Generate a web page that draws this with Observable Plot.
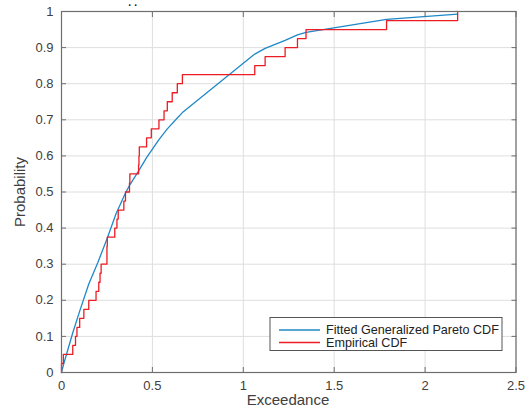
<!DOCTYPE html>
<html><head><meta charset="utf-8">
<script src="https://cdn.jsdelivr.net/npm/d3@7"></script>
<script src="https://cdn.jsdelivr.net/npm/@observablehq/plot@0.6"></script>
<style>
body{margin:0;background:#fff}
#chart{position:relative;width:531px;height:417px}
</style>
</head><body><div id="chart"></div>
<script>
// Empirical CDF jump locations (exceedance) and levels
const empiricalX = [0, 0, 0.01, 0.062, 0.077, 0.085, 0.1, 0.123, 0.15, 0.19, 0.205, 0.212, 0.218,
  0.25, 0.25, 0.252, 0.293, 0.305, 0.312, 0.343, 0.352, 0.374, 0.376, 0.424, 0.426, 0.428,
  0.468, 0.494, 0.536, 0.564, 0.582, 0.609, 0.637, 0.665, 1.063, 1.12, 1.23, 1.298, 1.345, 1.788, 2.179];
const empiricalP = [0, 0.025, 0.05, 0.075, 0.1, 0.125, 0.15, 0.175, 0.2, 0.225, 0.25, 0.275, 0.3,
  0.325, 0.35, 0.375, 0.4, 0.425, 0.45, 0.475, 0.5, 0.525, 0.55, 0.575, 0.6, 0.625,
  0.65, 0.675, 0.7, 0.725, 0.75, 0.775, 0.8, 0.825, 0.85, 0.875, 0.9, 0.925, 0.95, 0.975, 1];
// Fitted generalized Pareto CDF, read at the sample points
const fittedX = [0, 0.01, 0.062, 0.1, 0.15, 0.2, 0.25, 0.3, 0.35, 0.376, 0.426, 0.468, 0.536, 0.582, 0.637, 0.665,
  1.063, 1.12, 1.23, 1.298, 1.345, 1.788, 2.179];
const fittedP = [0, 0.02, 0.11, 0.17, 0.245, 0.305, 0.37, 0.44, 0.495, 0.52, 0.56, 0.595, 0.645, 0.675, 0.705, 0.72,
  0.882, 0.898, 0.92, 0.935, 0.942, 0.978, 0.993];

const xTicks = [0, 0.5, 1, 1.5, 2, 2.5];
const xTickLabels = ["0", "0.5", "1", "1.5", "2", "2.5"];
const yTicks = [0, 0.1, 0.2, 0.3, 0.4, 0.5, 0.6, 0.7, 0.8, 0.9, 1];
const yTickLabels = ["0", "0.1", "0.2", "0.3", "0.4", "0.5", "0.6", "0.7", "0.8", "0.9", "1"];
const seriesNames = ["Fitted Generalized Pareto CDF", "Empirical CDF"];
const seriesColors = ["#1f88c8", "#ec1c24"];
const xLabel = "Exceedance";
const yLabel = "Probability";

const empirical = empiricalX.map((x, i) => ({x, p: empiricalP[i]}));
const fitted = fittedX.map((x, i) => ({x, p: fittedP[i]}));
const xFmt = d => xTickLabels[xTicks.indexOf(d)];
const yFmt = d => yTickLabels[yTicks.indexOf(d)];

const font = "'Liberation Sans', Arial, Helvetica, sans-serif";
const axisColor = "#6e6e6e";

const plot = Plot.plot({
  width: 531, height: 417,
  marginLeft: 61, marginRight: 15.5, marginTop: 11, marginBottom: 45,
  style: {fontFamily: font, fontSize: "13px", color: "#404040", background: "#fff", overflow: "visible"},
  x: {domain: [0, 2.5], label: null},
  y: {domain: [0, 1], label: null},
  marks: [
    Plot.gridX(xTicks, {stroke: "#dedede", strokeOpacity: 1}),
    Plot.gridY(yTicks, {stroke: "#dedede", strokeOpacity: 1}),
    Plot.line(fitted, {x: "x", y: "p", stroke: seriesColors[0], strokeWidth: 1.3}),
    Plot.line(empirical, {x: "x", y: "p", curve: "step-after", stroke: seriesColors[1], strokeWidth: 1.3}),
    Plot.frame({stroke: axisColor, strokeWidth: 1.2}),
    Plot.axisX({anchor: "bottom", ticks: xTicks, tickSize: -5, tickPadding: 13, tickFormat: xFmt, stroke: axisColor, label: null, fontSize: 13}),
    Plot.axisX({anchor: "top", ticks: xTicks, tickSize: -5, tickFormat: () => "", stroke: axisColor, label: null}),
    Plot.axisY({anchor: "left", ticks: yTicks, tickSize: -5, tickPadding: 13, tickFormat: yFmt, stroke: axisColor, label: null, fontSize: 13}),
    Plot.axisY({anchor: "right", ticks: yTicks, tickSize: -5, tickFormat: () => "", stroke: axisColor, label: null})
  ]
});
document.getElementById("chart").appendChild(plot);

const svg = d3.select(plot);
// axis titles
svg.append("text").attr("x", 288).attr("y", 405).attr("text-anchor", "middle")
  .attr("font-family", font).attr("font-size", 15).attr("fill", "#404040").text(xLabel);
svg.append("text").attr("transform", "translate(25,192) rotate(-90)").attr("text-anchor", "middle")
  .attr("font-family", font).attr("font-size", 15).attr("fill", "#404040").text(yLabel);
// residue of a clipped title
svg.append("text").attr("x", 133).attr("y", 9).attr("text-anchor", "middle")
  .attr("font-family", font).attr("font-size", 10).attr("font-weight", "bold").attr("fill", "#111").text("· ·");

// legend
const lg = svg.append("g").attr("transform", "translate(270,317.5)");
lg.append("rect").attr("width", 232).attr("height", 33).attr("fill", "#fff").attr("stroke", "#555").attr("stroke-width", 1);
seriesNames.forEach((name, i) => {
  const yy = 12.5 + i * 12.5;
  lg.append("line").attr("x1", 9).attr("x2", 50).attr("y1", yy).attr("y2", yy)
    .attr("stroke", seriesColors[i]).attr("stroke-width", 1.3);
  lg.append("text").attr("x", 56).attr("y", yy).attr("dy", "0.35em").attr("text-anchor", "start")
    .attr("font-family", font).attr("font-size", 12.6).attr("fill", "#222").text(name);
});
</script>
</body></html>
